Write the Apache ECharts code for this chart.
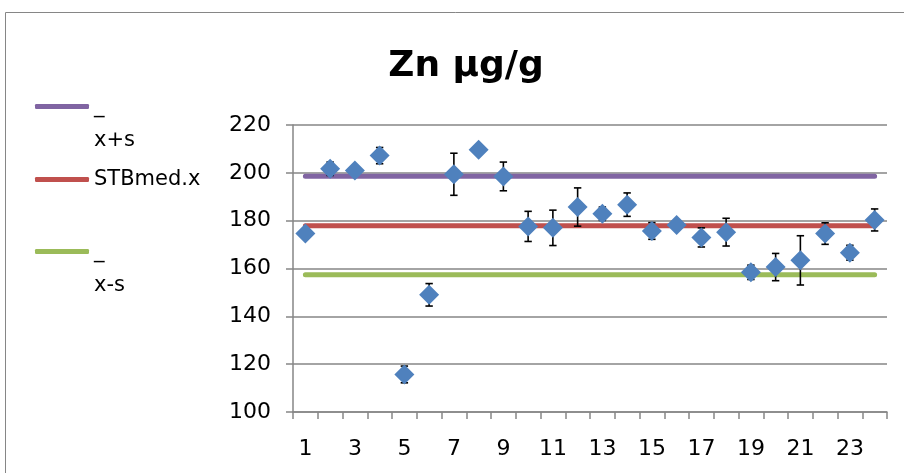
<!DOCTYPE html>
<html>
<head>
<meta charset="utf-8">
<script src="https://cdn.jsdelivr.net/npm/echarts@6/dist/echarts.min.js"></script>
<style>
  html, body { margin: 0; padding: 0; background: #fff; }
  #chart { width: 904px; height: 473px; }
</style>
</head>
<body>
<div id="chart"></div>
<script>
// ---- data ----
const categories = ['1','2','3','4','5','6','7','8','9','10','11','12','13','14','15','16','17','18','19','20','21','22','23','24'];
const znMean = [174.6, 201.7, 201.0, 207.2, 115.7, 149.0, 199.4, 209.7, 198.5, 177.6, 177.0, 185.7, 182.9, 186.7, 175.7, 178.2, 173.0, 175.2, 158.4, 160.6, 163.4, 174.6, 166.6, 180.3];
const znErr  = [1.5, 2.8, 1.5, 3.4, 3.5, 4.7, 8.8, 1.5, 6.0, 6.3, 7.4, 8.0, 2.8, 4.9, 3.5, 1.5, 4.0, 5.8, 3.0, 5.7, 10.3, 4.5, 3.1, 4.6];
const meanPlusS = [198.6, 198.6, 198.6, 198.6, 198.6, 198.6, 198.6, 198.6, 198.6, 198.6, 198.6, 198.6, 198.6, 198.6, 198.6, 198.6, 198.6, 198.6, 198.6, 198.6, 198.6, 198.6, 198.6, 198.6];
const stbMed    = [177.9, 177.9, 177.9, 177.9, 177.9, 177.9, 177.9, 177.9, 177.9, 177.9, 177.9, 177.9, 177.9, 177.9, 177.9, 177.9, 177.9, 177.9, 177.9, 177.9, 177.9, 177.9, 177.9, 177.9];
const meanMinusS = [157.4, 157.4, 157.4, 157.4, 157.4, 157.4, 157.4, 157.4, 157.4, 157.4, 157.4, 157.4, 157.4, 157.4, 157.4, 157.4, 157.4, 157.4, 157.4, 157.4, 157.4, 157.4, 157.4, 157.4];
const yTicks = { min: 100, max: 220, interval: 20 };
const titleText = 'Zn µg/g';
const lineNames = ['_\nx+s', 'STBmed.x', '_\nx-s'];

// ---- build ----
const errData = znMean.map((m, i) => [i, m - znErr[i], m + znErr[i]]);
const FONT = 'DejaVu Sans';
const GRAY = '#868686';

function legendFor(name, top) {
  return {
    data: [name],
    left: 35,
    top: top,
    padding: 0,
    orient: 'vertical',
    icon: 'roundRect',
    itemWidth: 54,
    itemHeight: 5,
    selectedMode: false,
    formatter: function (n) {
      const parts = n.split('\n');
      if (parts.length === 1) return '{s|' + n + '}';
      // blank first line keeps the icon level with the first text line
      return '{s| }\n' + parts.map(p => '{s|' + p + '}').join('\n');
    },
    textStyle: {
      color: '#000',
      rich: { s: { fontFamily: FONT, fontSize: 21, color: '#000', lineHeight: 34 } }
    }
  };
}

const chart = echarts.init(document.getElementById('chart'), null, { renderer: 'canvas' });
chart.setOption({
  animation: false,
  backgroundColor: '#fff',
  title: {
    text: titleText,
    left: 461,
    textAlign: 'center',
    top: 44,
    textStyle: { fontFamily: FONT, fontWeight: 'bold', fontSize: 36, color: '#000' }
  },
  graphic: [{
    type: 'rect', silent: true, z: -10,
    shape: { x: 5.5, y: 12.5, width: 1000, height: 1000 },
    style: { fill: 'none', stroke: GRAY, lineWidth: 1 }
  }],
  legend: [
    legendFor(lineNames[0], 62),
    legendFor(lineNames[1], 169),
    legendFor(lineNames[2], 207)
  ],
  grid: { left: 293, right: 17, top: 125, bottom: 61, containLabel: false },
  xAxis: {
    type: 'category',
    data: categories,
    boundaryGap: true,
    axisLine: { lineStyle: { color: GRAY, width: 1.5 } },
    axisTick: { show: true, length: 7, interval: 0, lineStyle: { color: GRAY, width: 1.5 } },
    axisLabel: { interval: 1, margin: 26, fontFamily: FONT, fontSize: 22, color: '#000' },
    splitLine: { show: false }
  },
  yAxis: {
    type: 'value',
    min: yTicks.min, max: yTicks.max, interval: yTicks.interval,
    axisLine: { show: true, lineStyle: { color: GRAY, width: 1.5 } },
    axisTick: { show: true, length: 7, lineStyle: { color: GRAY, width: 1.5 } },
    axisLabel: { margin: 22, fontFamily: FONT, fontSize: 22, color: '#000' },
    splitLine: { show: true, lineStyle: { color: GRAY, width: 1.5 } }
  },
  series: [
    { name: lineNames[0], type: 'line', data: meanPlusS, symbol: 'none', z: 2,
      color: '#8064a2', lineStyle: { color: '#8064a2', width: 5, cap: 'round' } },
    { name: lineNames[1], type: 'line', data: stbMed, symbol: 'none', z: 2,
      color: '#c0504d', lineStyle: { color: '#c0504d', width: 5, cap: 'round' } },
    { name: lineNames[2], type: 'line', data: meanMinusS, symbol: 'none', z: 2,
      color: '#9bbb59', lineStyle: { color: '#9bbb59', width: 5, cap: 'round' } },
    {
      name: 'err', type: 'custom', z: 3, data: errData,
      renderItem: function (params, api) {
        const lo = api.coord([api.value(0), api.value(1)]);
        const hi = api.coord([api.value(0), api.value(2)]);
        const w = 3.7;
        const st = { stroke: '#000', lineWidth: 1.6 };
        return {
          type: 'group',
          children: [
            { type: 'line', shape: { x1: lo[0], y1: lo[1], x2: hi[0], y2: hi[1] }, style: st },
            { type: 'line', shape: { x1: lo[0] - w, y1: lo[1], x2: lo[0] + w, y2: lo[1] }, style: st },
            { type: 'line', shape: { x1: hi[0] - w, y1: hi[1], x2: hi[0] + w, y2: hi[1] }, style: st }
          ]
        };
      }
    },
    {
      name: 'Zn', type: 'scatter', z: 4, data: znMean,
      symbol: 'diamond', symbolSize: [20, 20],
      itemStyle: { color: '#4f81bd', opacity: 1 }
    }
  ]
});
</script>
</body>
</html>
